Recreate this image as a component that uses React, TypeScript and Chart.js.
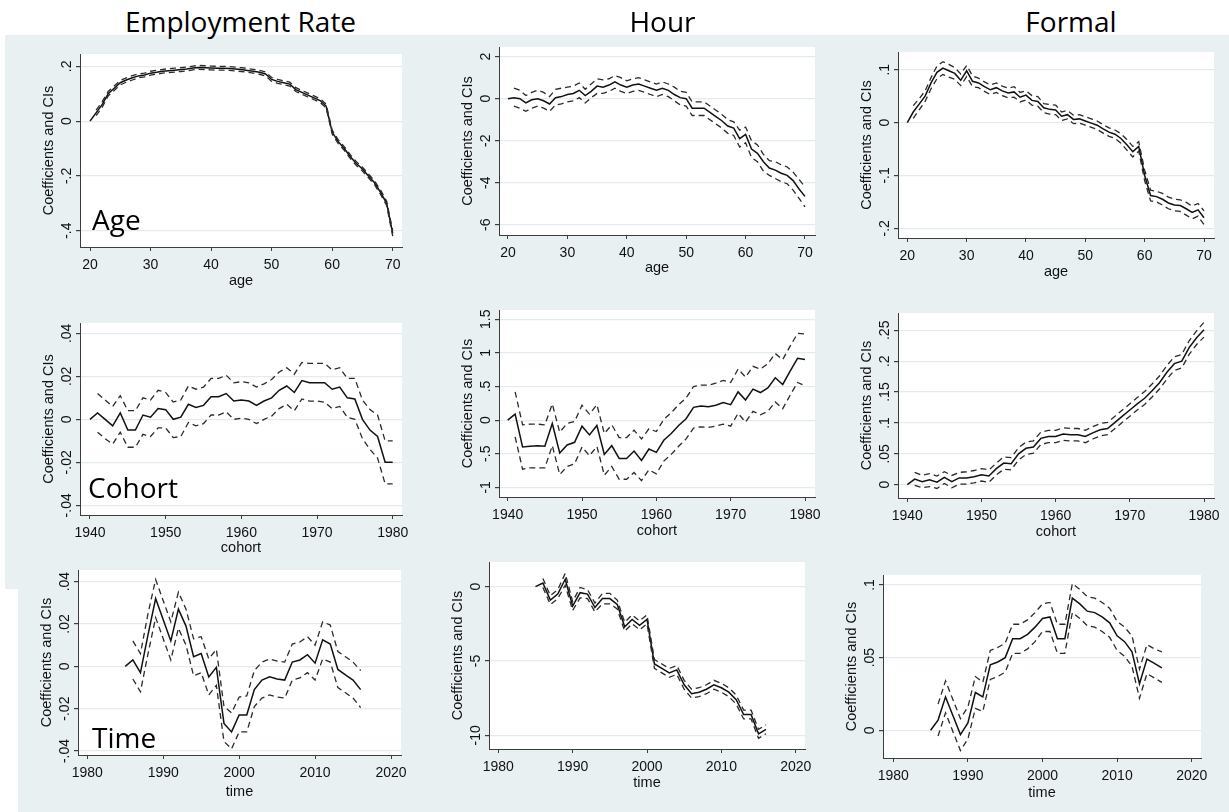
import React, { useEffect, useRef } from "react";
import { Chart, registerables } from "chart.js";

Chart.register(...registerables);

// ---------- x categories ----------
const ages = [20, 21, 22, 23, 24, 25, 26, 27, 28, 29, 30, 31, 32, 33, 34, 35, 36, 37, 38, 39, 40, 41, 42, 43, 44, 45, 46, 47, 48, 49, 50, 51, 52, 53, 54, 55, 56, 57, 58, 59, 60, 61, 62, 63, 64, 65, 66, 67, 68, 69, 70];
const cohorts = [1940, 1941, 1942, 1943, 1944, 1945, 1946, 1947, 1948, 1949, 1950, 1951, 1952, 1953, 1954, 1955, 1956, 1957, 1958, 1959, 1960, 1961, 1962, 1963, 1964, 1965, 1966, 1967, 1968, 1969, 1970, 1971, 1972, 1973, 1974, 1975, 1976, 1977, 1978, 1979, 1980];
const years = [1985, 1986, 1987, 1988, 1989, 1990, 1991, 1992, 1993, 1994, 1995, 1996, 1997, 1998, 1999, 2000, 2001, 2002, 2003, 2004, 2005, 2006, 2007, 2008, 2009, 2010, 2011, 2012, 2013, 2014, 2015, 2016];

// ---------- tick labels ----------
const ageTicks = [20, 30, 40, 50, 60, 70];
const cohortTicks = [1940, 1950, 1960, 1970, 1980];
const timeTicks = [1980, 1990, 2000, 2010, 2020];
const empAgeYTicks = [-0.4, -0.2, 0, 0.2];
const hourAgeYTicks = [-6, -4, -2, 0, 2];
const formalAgeYTicks = [-0.2, -0.1, 0, 0.1];
const empCohortYTicks = [-0.04, -0.02, 0, 0.02, 0.04];
const hourCohortYTicks = [-1, -0.5, 0, 0.5, 1, 1.5];
const formalCohortYTicks = [0, 0.05, 0.1, 0.15, 0.2, 0.25];
const empTimeYTicks = [-0.04, -0.02, 0, 0.02, 0.04];
const hourTimeYTicks = [-10, -5, 0];
const formalTimeYTicks = [0, 0.05, 0.1];

// ---------- Employment rate : age ----------
const empAgeCoef = [0, 0.03, 0.06, 0.1, 0.12, 0.14, 0.15, 0.158, 0.165, 0.168, 0.175, 0.178, 0.182, 0.184, 0.186, 0.188, 0.19, 0.194, 0.196, 0.195, 0.194, 0.193, 0.193, 0.192, 0.19, 0.188, 0.185, 0.182, 0.178, 0.172, 0.152, 0.145, 0.14, 0.135, 0.115, 0.105, 0.095, 0.085, 0.075, 0.055, -0.04, -0.075, -0.1, -0.13, -0.155, -0.175, -0.2, -0.225, -0.26, -0.3, -0.41];
const empAgeUpper = [null, 0.04, 0.07, 0.108, 0.128, 0.148, 0.158, 0.166, 0.172, 0.175, 0.182, 0.185, 0.189, 0.191, 0.193, 0.195, 0.197, 0.201, 0.203, 0.202, 0.201, 0.2, 0.2, 0.199, 0.197, 0.195, 0.192, 0.189, 0.185, 0.179, 0.159, 0.152, 0.147, 0.142, 0.122, 0.112, 0.102, 0.092, 0.082, 0.062, -0.033, -0.068, -0.093, -0.123, -0.148, -0.168, -0.193, -0.218, -0.252, -0.292, -0.4];
const empAgeLower = [null, 0.02, 0.05, 0.092, 0.112, 0.132, 0.142, 0.15, 0.158, 0.161, 0.168, 0.171, 0.175, 0.177, 0.179, 0.181, 0.183, 0.187, 0.189, 0.188, 0.187, 0.186, 0.186, 0.185, 0.183, 0.181, 0.178, 0.175, 0.171, 0.165, 0.145, 0.138, 0.133, 0.128, 0.108, 0.098, 0.088, 0.078, 0.068, 0.048, -0.047, -0.082, -0.107, -0.137, -0.162, -0.182, -0.207, -0.232, -0.268, -0.308, -0.42];

// ---------- Hour : age ----------
const hourAgeCoef = [0, 0.05, 0, -0.2, -0.05, 0, -0.1, -0.25, 0.05, 0.1, 0.2, 0.25, 0.4, 0.15, 0.35, 0.6, 0.55, 0.65, 0.8, 0.65, 0.55, 0.65, 0.7, 0.6, 0.5, 0.4, 0.5, 0.4, 0.2, 0.05, 0, -0.45, -0.45, -0.45, -0.65, -0.85, -1.05, -1.3, -1.4, -1.9, -1.7, -2.4, -2.6, -3.0, -3.3, -3.4, -3.55, -3.65, -3.9, -4.3, -4.65];
const hourAgeUpper = [null, 0.5, 0.4, 0.15, 0.3, 0.4, 0.3, 0.1, 0.45, 0.5, 0.55, 0.6, 0.75, 0.45, 0.7, 0.95, 0.9, 0.95, 1.1, 1.0, 0.85, 0.95, 1.0, 0.9, 0.8, 0.7, 0.8, 0.7, 0.55, 0.35, 0.3, -0.15, -0.15, -0.15, -0.35, -0.55, -0.75, -1.0, -1.1, -1.5, -1.35, -2.0, -2.2, -2.65, -2.95, -3.0, -3.15, -3.25, -3.5, -3.85, -4.2];
const hourAgeLower = [null, -0.35, -0.45, -0.6, -0.45, -0.35, -0.45, -0.6, -0.3, -0.25, -0.15, -0.1, 0.05, -0.2, 0.05, 0.25, 0.25, 0.35, 0.5, 0.35, 0.25, 0.35, 0.4, 0.3, 0.2, 0.1, 0.2, 0.1, -0.1, -0.3, -0.35, -0.8, -0.8, -0.8, -1.0, -1.2, -1.4, -1.65, -1.75, -2.3, -2.1, -2.8, -3.0, -3.45, -3.65, -3.8, -3.95, -4.05, -4.35, -4.75, -5.15];

// ---------- Formal : age ----------
const formalAgeCoef = [0, 0.02, 0.035, 0.05, 0.075, 0.095, 0.103, 0.098, 0.093, 0.08, 0.098, 0.078, 0.075, 0.068, 0.062, 0.066, 0.06, 0.056, 0.058, 0.048, 0.052, 0.042, 0.04, 0.028, 0.025, 0.024, 0.012, 0.015, 0.006, 0.007, 0.003, -0.001, -0.005, -0.012, -0.018, -0.022, -0.03, -0.042, -0.055, -0.045, -0.1, -0.138, -0.14, -0.145, -0.152, -0.156, -0.157, -0.163, -0.17, -0.165, -0.18];
const formalAgeUpper = [null, 0.032, 0.045, 0.06, 0.085, 0.107, 0.115, 0.11, 0.104, 0.092, 0.108, 0.088, 0.084, 0.077, 0.071, 0.075, 0.069, 0.065, 0.068, 0.057, 0.06, 0.051, 0.049, 0.036, 0.034, 0.033, 0.02, 0.023, 0.014, 0.015, 0.011, 0.007, 0.003, -0.004, -0.01, -0.014, -0.021, -0.032, -0.045, -0.036, -0.09, -0.128, -0.13, -0.134, -0.141, -0.145, -0.146, -0.151, -0.158, -0.153, -0.167];
const formalAgeLower = [null, 0.008, 0.024, 0.04, 0.064, 0.083, 0.091, 0.086, 0.082, 0.07, 0.087, 0.068, 0.066, 0.059, 0.053, 0.057, 0.051, 0.047, 0.048, 0.039, 0.043, 0.033, 0.031, 0.019, 0.016, 0.015, 0.004, 0.007, -0.002, -0.001, -0.005, -0.009, -0.013, -0.02, -0.026, -0.03, -0.039, -0.052, -0.065, -0.054, -0.11, -0.148, -0.15, -0.156, -0.163, -0.167, -0.168, -0.175, -0.182, -0.177, -0.193];

// ---------- Employment rate : cohort ----------
const empCohortCoef = [0, 0.003, 0, -0.003, 0.003, -0.005, -0.005, 0.002, 0.001, 0.005, 0.0045, 0, 0.001, 0.007, 0.0055, 0.0065, 0.0105, 0.0105, 0.012, 0.0085, 0.009, 0.0085, 0.0065, 0.0085, 0.01, 0.0135, 0.0155, 0.0125, 0.018, 0.017, 0.017, 0.017, 0.014, 0.015, 0.01, 0.0095, 0, -0.005, -0.008, -0.02, -0.02];
const empCohortUpper = [null, 0.012, 0.009, 0.006, 0.011, 0.004, 0.004, 0.01, 0.009, 0.0135, 0.0125, 0.008, 0.009, 0.0155, 0.014, 0.015, 0.019, 0.019, 0.0205, 0.017, 0.0175, 0.017, 0.015, 0.0165, 0.0185, 0.022, 0.024, 0.021, 0.0265, 0.026, 0.026, 0.026, 0.023, 0.024, 0.019, 0.019, 0.009, 0.0045, 0.002, -0.01, -0.01];
const empCohortLower = [null, -0.006, -0.009, -0.0115, -0.006, -0.013, -0.013, -0.007, -0.008, -0.004, -0.004, -0.0085, -0.008, -0.0015, -0.003, -0.002, 0.002, 0.002, 0.0035, 0, 0.0005, 0, -0.002, 0, 0.0015, 0.005, 0.007, 0.004, 0.0095, 0.0085, 0.0085, 0.008, 0.005, 0.006, 0.001, 0, -0.009, -0.014, -0.018, -0.03, -0.03];

// ---------- Hour : cohort ----------
const hourCohortCoef = [0, 0.09, -0.4, -0.39, -0.38, -0.39, -0.05, -0.49, -0.37, -0.33, -0.09, -0.22, -0.08, -0.51, -0.38, -0.57, -0.57, -0.46, -0.6, -0.43, -0.48, -0.3, -0.2, -0.08, 0.02, 0.19, 0.21, 0.2, 0.22, 0.26, 0.23, 0.42, 0.3, 0.46, 0.41, 0.48, 0.63, 0.53, 0.73, 0.92, 0.9];
const hourCohortUpper = [null, 0.42, -0.07, -0.06, -0.06, -0.07, 0.24, -0.18, -0.05, -0.02, 0.22, 0.09, 0.23, -0.2, -0.07, -0.26, -0.26, -0.15, -0.28, -0.13, -0.17, 0.01, 0.11, 0.23, 0.33, 0.5, 0.52, 0.52, 0.55, 0.59, 0.56, 0.76, 0.64, 0.8, 0.76, 0.84, 0.99, 0.9, 1.1, 1.29, 1.28];
const hourCohortLower = [null, -0.25, -0.73, -0.71, -0.71, -0.71, -0.38, -0.81, -0.69, -0.65, -0.4, -0.53, -0.39, -0.82, -0.69, -0.88, -0.88, -0.78, -0.9, -0.74, -0.8, -0.61, -0.51, -0.39, -0.28, -0.12, -0.1, -0.11, -0.09, -0.06, -0.09, 0.1, -0.03, 0.13, 0.08, 0.13, 0.27, 0.17, 0.37, 0.56, 0.51];

// ---------- Formal : cohort ----------
const formalCohortCoef = [0, 0.009, 0.005, 0.008, 0.004, 0.012, 0.005, 0.011, 0.011, 0.013, 0.016, 0.014, 0.026, 0.035, 0.034, 0.05, 0.059, 0.061, 0.075, 0.078, 0.078, 0.082, 0.081, 0.081, 0.078, 0.084, 0.089, 0.091, 0.101, 0.111, 0.121, 0.131, 0.14, 0.152, 0.165, 0.182, 0.196, 0.2, 0.222, 0.238, 0.251];
const formalCohortUpper = [null, 0.02, 0.015, 0.018, 0.014, 0.021, 0.015, 0.02, 0.021, 0.023, 0.026, 0.024, 0.035, 0.045, 0.044, 0.06, 0.069, 0.071, 0.085, 0.088, 0.088, 0.092, 0.091, 0.091, 0.088, 0.094, 0.099, 0.101, 0.111, 0.121, 0.131, 0.141, 0.151, 0.163, 0.176, 0.193, 0.207, 0.211, 0.233, 0.249, 0.263];
const formalCohortLower = [null, -0.001, -0.005, -0.003, -0.006, 0.002, -0.005, 0.001, 0.001, 0.003, 0.006, 0.004, 0.016, 0.025, 0.024, 0.04, 0.049, 0.051, 0.065, 0.068, 0.068, 0.072, 0.071, 0.071, 0.068, 0.074, 0.079, 0.081, 0.091, 0.101, 0.111, 0.121, 0.13, 0.142, 0.155, 0.171, 0.185, 0.189, 0.211, 0.227, 0.239];

// ---------- Employment rate : time ----------
const empTimeCoef = [0, 0.003, -0.003, 0.015, 0.032, 0.022, 0.012, 0.027, 0.019, 0.0045, 0.006, -0.005, -0.0005, -0.027, -0.031, -0.023, -0.023, -0.011, -0.0065, -0.005, -0.006, -0.0065, 0.002, 0.003, 0.0055, 0.0015, 0.0125, 0.0105, -0.0015, -0.004, -0.0065, -0.011];
const empTimeUpper = [null, 0.012, 0.006, 0.025, 0.041, 0.031, 0.021, 0.035, 0.027, 0.013, 0.014, 0.0035, 0.008, -0.019, -0.022, -0.0145, -0.014, -0.002, 0.002, 0.0035, 0.0025, 0.002, 0.0105, 0.0115, 0.014, 0.01, 0.021, 0.0195, 0.007, 0.0045, 0.002, -0.002];
const empTimeLower = [null, -0.006, -0.012, 0.006, 0.023, 0.013, 0.003, 0.018, 0.01, -0.0045, -0.003, -0.0135, -0.009, -0.0355, -0.039, -0.031, -0.031, -0.019, -0.015, -0.0135, -0.0145, -0.015, -0.0065, -0.0055, -0.003, -0.0065, 0.0035, 0.002, -0.01, -0.0125, -0.015, -0.0195];

// ---------- Hour : time ----------
const hourTimeCoef = [0, 0.25, -0.9, -0.5, 0.5, -1.3, -0.4, -0.5, -1.4, -0.8, -0.8, -1.2, -2.7, -2.2, -2.6, -2.2, -5.2, -5.5, -5.8, -5.6, -6.6, -7.2, -7.1, -6.9, -6.6, -6.8, -7.1, -7.6, -8.6, -8.6, -9.9, -9.6];
const hourTimeUpper = [null, 0.55, -0.6, -0.2, 0.9, -1.0, -0.05, -0.2, -1.1, -0.45, -0.45, -0.9, -2.4, -1.9, -2.3, -1.9, -4.9, -5.2, -5.5, -5.3, -6.3, -6.9, -6.8, -6.6, -6.3, -6.5, -6.8, -7.3, -8.3, -8.3, -9.6, -9.3];
const hourTimeLower = [null, -0.05, -1.2, -0.8, 0.1, -1.6, -0.75, -0.8, -1.7, -1.15, -1.15, -1.5, -3.0, -2.5, -2.9, -2.5, -5.5, -5.8, -6.1, -5.9, -6.9, -7.5, -7.4, -7.2, -6.9, -7.1, -7.4, -7.9, -8.9, -8.9, -10.2, -9.9];

// ---------- Formal : time ----------
const formalTimeCoef = [0, 0.007, 0.023, 0.01, -0.003, 0.005, 0.026, 0.023, 0.045, 0.047, 0.05, 0.063, 0.063, 0.066, 0.071, 0.077, 0.078, 0.063, 0.063, 0.091, 0.087, 0.082, 0.081, 0.078, 0.074, 0.065, 0.061, 0.054, 0.032, 0.049, 0.046, 0.043];
const formalTimeUpper = [null, 0.018, 0.034, 0.021, 0.008, 0.016, 0.037, 0.033, 0.055, 0.057, 0.06, 0.073, 0.073, 0.076, 0.081, 0.087, 0.088, 0.073, 0.073, 0.101, 0.097, 0.092, 0.091, 0.088, 0.084, 0.075, 0.071, 0.065, 0.042, 0.059, 0.056, 0.054];
const formalTimeLower = [null, -0.004, 0.012, -0.001, -0.014, -0.006, 0.015, 0.013, 0.035, 0.037, 0.04, 0.053, 0.053, 0.056, 0.061, 0.068, 0.068, 0.053, 0.053, 0.081, 0.077, 0.072, 0.071, 0.068, 0.064, 0.055, 0.051, 0.044, 0.022, 0.039, 0.036, 0.033];

const columnTitles = ["Employment Rate", "Hour", "Formal"];
const rowLabels = ["Age", "Cohort", "Time"];
const yAxisTitle = "Coefficients and CIs";

// ---------- layout / style ----------
const PADL = 62;
const PADT = 10;
const PADR = 22;
const PADB = 52;
const BG = "#e8f0f2";
const GRID = "#e2ebee";
const AXIS = "#3c3c3c";
const TXT = "#111";
const TICK_FONT = '14px "Liberation Sans", Arial, sans-serif';
const TITLE_FONT = '14.5px "Liberation Sans", Arial, sans-serif';
const HEAD_FONT = '"Open Sans", sans-serif';

type PanelCfg = {
  xs: number[];
  coef: (number | null)[];
  upper: (number | null)[];
  lower: (number | null)[];
  box: [number, number, number, number];
  xRange: [number, number];
  yRange: [number, number];
  xTicks: number[];
  yTicks: number[];
  xTitle: string;
  titleOff: number;
};

const panels: PanelCfg[] = [
  { xs: ages, coef: empAgeCoef, upper: empAgeUpper, lower: empAgeLower, box: [80, 54, 402, 247], xRange: [18.348, 71.536], yRange: [-0.4595, 0.2449], xTicks: ageTicks, yTicks: empAgeYTicks, xTitle: "age", titleOff: 38 },
  { xs: ages, coef: hourAgeCoef, upper: hourAgeUpper, lower: hourAgeLower, box: [499, 47, 815, 235], xRange: [18.485, 71.684], yRange: [-6.49, 2.462], xTicks: ageTicks, yTicks: hourAgeYTicks, xTitle: "age", titleOff: 37 },
  { xs: ages, coef: formalAgeCoef, upper: formalAgeUpper, lower: formalAgeLower, box: [898, 52, 1214, 238], xRange: [18.433, 71.685], yRange: [-0.2183, 0.1335], xTicks: ageTicks, yTicks: formalAgeYTicks, xTitle: "age", titleOff: 38 },
  { xs: cohorts, coef: empCohortCoef, upper: empCohortUpper, lower: empCohortLower, box: [80, 323, 402, 515], xRange: [1938.679, 1981.229], yRange: [-0.0445, 0.0448], xTicks: cohortTicks, yTicks: empCohortYTicks, xTitle: "cohort", titleOff: 37 },
  { xs: cohorts, coef: hourCohortCoef, upper: hourCohortUpper, lower: hourCohortLower, box: [499, 310, 815, 497], xRange: [1938.83, 1981.345], yRange: [-1.144, 1.638], xTicks: cohortTicks, yTicks: hourCohortYTicks, xTitle: "cohort", titleOff: 38 },
  { xs: cohorts, coef: formalCohortCoef, upper: formalCohortUpper, lower: formalCohortLower, box: [898, 313, 1214, 498], xRange: [1938.746, 1981.348], yRange: [-0.0215, 0.278], xTicks: cohortTicks, yTicks: formalCohortYTicks, xTitle: "cohort", titleOff: 38 },
  { xs: years, coef: empTimeCoef, upper: empTimeUpper, lower: empTimeLower, box: [78, 570, 401, 755], xRange: [1978.775, 2021.317], yRange: [-0.0419, 0.0455], xTicks: timeTicks, yTicks: empTimeYTicks, xTitle: "time", titleOff: 41 },
  { xs: years, coef: hourTimeCoef, upper: hourTimeUpper, lower: hourTimeLower, box: [489, 562, 805, 749], xRange: [1978.749, 2021.251], yRange: [-10.922, 1.662], xTicks: timeTicks, yTicks: hourTimeYTicks, xTitle: "time", titleOff: 38 },
  { xs: years, coef: formalTimeCoef, upper: formalTimeUpper, lower: formalTimeLower, box: [883, 575, 1201, 758], xRange: [1978.619, 2021.247], yRange: [-0.0191, 0.1069], xTicks: timeTicks, yTicks: formalTimeYTicks, xTitle: "time", titleOff: 38.5 },
];

function stataNum(v: number): string {
  const s = String(Math.round(v * 10000) / 10000);
  return s.replace(/^(-?)0\./, "$1.");
}

function Panel({ cfg }: { cfg: PanelCfg }) {
  const ref = useRef<HTMLCanvasElement>(null);
  const [L, T, R, B] = cfg.box;
  const W = R - L + PADL + PADR;
  const H = B - T + PADT + PADB;

  useEffect(() => {
    const canvas = ref.current;
    if (!canvas) return;
    const toPts = (arr: (number | null)[]) => cfg.xs.map((x, i) => ({ x, y: arr[i] }));
    const stataPlugin = {
      id: "stataLook",
      beforeDraw(chart: any) {
        const { ctx, chartArea: a } = chart;
        ctx.save();
        ctx.fillStyle = "#ffffff";
        ctx.fillRect(a.left, a.top, a.right - a.left, a.bottom - a.top);
        ctx.restore();
      },
      afterDraw(chart: any) {
        const { ctx, chartArea: a, scales } = chart;
        ctx.save();
        ctx.fillStyle = TXT;
        ctx.font = TICK_FONT;
        ctx.textAlign = "center";
        ctx.textBaseline = "alphabetic";
        for (const v of cfg.yTicks) {
          const py = scales.y.getPixelForValue(v);
          ctx.save();
          ctx.translate(a.left - 9.5, py);
          ctx.rotate(-Math.PI / 2);
          ctx.fillText(stataNum(v), 0, 0);
          ctx.restore();
        }
        for (const v of cfg.xTicks) {
          const px = scales.x.getPixelForValue(v);
          ctx.fillText(String(v), px, a.bottom + 22);
        }
        ctx.font = TITLE_FONT;
        ctx.fillText(cfg.xTitle, (a.left + a.right) / 2, a.bottom + cfg.titleOff);
        ctx.save();
        ctx.translate(a.left - 27.5, (a.top + a.bottom) / 2);
        ctx.rotate(-Math.PI / 2);
        ctx.fillText(yAxisTitle, 0, 0);
        ctx.restore();
        ctx.restore();
      },
    };

    const dashed = {
      borderColor: "#2a2a2a",
      borderWidth: 1.3,
      borderDash: [6, 4],
      pointRadius: 0,
      tension: 0,
      fill: false,
      spanGaps: false,
    };

    const chart = new Chart(canvas, {
      type: "line",
      data: {
        datasets: [
          { label: "upper", data: toPts(cfg.upper), ...dashed },
          { label: "lower", data: toPts(cfg.lower), ...dashed },
          {
            label: "coef",
            data: toPts(cfg.coef),
            borderColor: "#111",
            borderWidth: 1.5,
            pointRadius: 0,
            tension: 0,
            fill: false,
          },
        ],
      } as any,
      options: {
        responsive: false,
        animation: false,
        devicePixelRatio: 1,
        layout: { padding: { left: 0, top: PADT, right: PADR, bottom: 0 } },
        plugins: { legend: { display: false }, tooltip: { enabled: false }, title: { display: false } },
        events: [],
        scales: {
          x: {
            type: "linear",
            min: cfg.xRange[0],
            max: cfg.xRange[1],
            afterBuildTicks: (s: any) => {
              s.ticks = cfg.xTicks.map((v) => ({ value: v }));
            },
            afterFit: (s: any) => {
              s.height = PADB;
            },
            ticks: { display: false },
            grid: { drawOnChartArea: false, drawTicks: true, tickLength: 4, tickColor: AXIS, color: AXIS },
            border: { display: true, color: AXIS, width: 1 },
          },
          y: {
            type: "linear",
            min: cfg.yRange[0],
            max: cfg.yRange[1],
            afterBuildTicks: (s: any) => {
              s.ticks = cfg.yTicks.map((v) => ({ value: v }));
            },
            afterFit: (s: any) => {
              s.width = PADL;
            },
            ticks: { display: false },
            grid: { drawOnChartArea: true, drawTicks: true, tickLength: 4, tickColor: AXIS, color: GRID, lineWidth: 1.2 },
            border: { display: true, color: AXIS, width: 1 },
          },
        },
      } as any,
      plugins: [stataPlugin as any],
    });
    return () => chart.destroy();
  }, [cfg]);

  return (
    <canvas
      ref={ref}
      width={W}
      height={H}
      style={{ position: "absolute", left: L - PADL, top: T - PADT, width: W, height: H }}
    />
  );
}

const headStyle = (cx: number, top: number): React.CSSProperties => ({
  position: "absolute",
  left: cx,
  top,
  transform: "translateX(-50%)",
  fontFamily: HEAD_FONT,
  fontSize: 28,
  lineHeight: "normal",
  color: "#000",
  whiteSpace: "nowrap",
});

const labelStyle = (left: number, top: number): React.CSSProperties => ({
  position: "absolute",
  left,
  top,
  fontFamily: HEAD_FONT,
  fontSize: 28,
  lineHeight: "normal",
  color: "#000",
  whiteSpace: "nowrap",
});

export default function App() {
  return (
    <div
      style={{
        position: "absolute",
        left: 0,
        top: 0,
        width: 1229,
        height: 812,
        overflow: "hidden",
        background: "#ffffff",
      }}
    >
      <div style={{ position: "absolute", left: 5, top: 35, width: 1224, height: 777, background: BG }} />
      <div style={{ position: "absolute", left: 0, top: 589, width: 18, height: 223, background: "#ffffff" }} />
      {panels.map((p, i) => (
        <Panel key={i} cfg={p} />
      ))}
      <div style={headStyle(240.5, 2)}>{columnTitles[0]}</div>
      <div style={headStyle(662.5, 2)}>{columnTitles[1]}</div>
      <div style={headStyle(1071, 2)}>{columnTitles[2]}</div>
      <div style={labelStyle(92, 200)}>{rowLabels[0]}</div>
      <div style={labelStyle(88, 468)}>{rowLabels[1]}</div>
      <div style={labelStyle(92, 718)}>{rowLabels[2]}</div>
    </div>
  );
}
